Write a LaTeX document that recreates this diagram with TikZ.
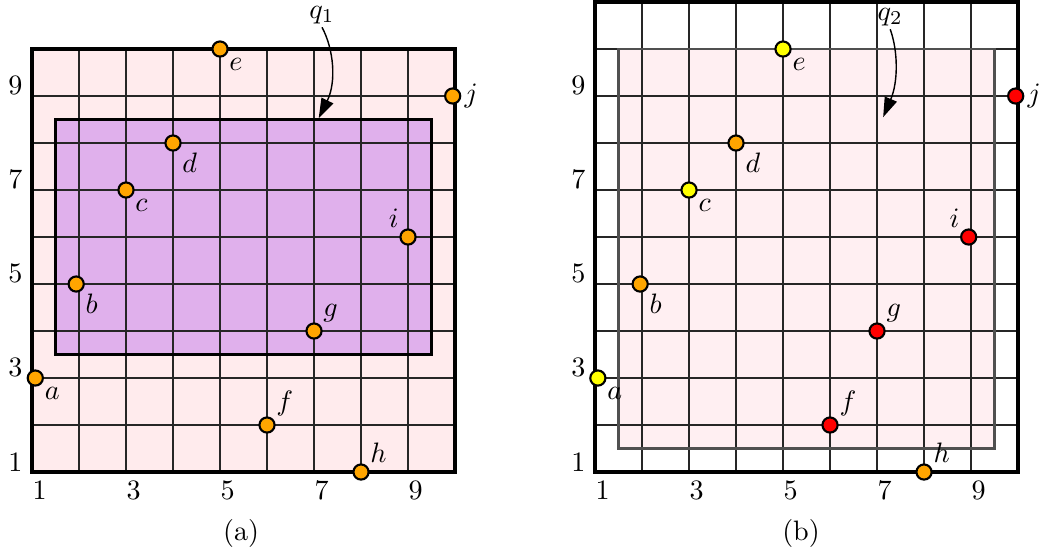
\documentclass[tikz,border=0pt]{standalone}
\usetikzlibrary{arrows.meta}
\definecolor{pinkA}{RGB}{255,235,237}
\definecolor{pinkB}{RGB}{255,239,242}
\definecolor{lilac}{RGB}{224,176,236}
\definecolor{dotorange}{RGB}{255,165,0}
\definecolor{dotyellow}{RGB}{255,255,0}
\definecolor{dotred}{RGB}{255,0,0}
\definecolor{rimgray}{RGB}{80,80,80}
\tikzset{
  gridline/.style={line width=0.45pt, black!85},
  outerframe/.style={line width=1.2pt, black},
  pt/.style={circle, draw=black, line width=0.75pt, minimum size=5.4pt, inner sep=0pt},
  po/.style={pt, fill=dotorange},
  py/.style={pt, fill=dotyellow},
  pr/.style={pt, fill=dotred},
  lb/.style={inner sep=1pt},
  ytick/.style={anchor=south east, inner sep=0pt, xshift=-3.2pt},
  xtick/.style={anchor=north west, inner sep=0pt, yshift=-2.85pt},
  qarrow/.style={line width=0.5pt, -{Triangle[length=7pt,width=4.6pt]}},
  qlabel/.style={inner sep=1pt}
}
\begin{document}
\begin{tikzpicture}[x=0.588cm, y=0.588cm]
\useasboundingbox (0,0) rectangle (22.170,11.830);

% ---------- left panel ----------
\begin{scope}[shift={(-0.319,0.787)}]
  \fill[pinkA] (1,1) rectangle (10,10);
  \fill[lilac] (1.5,3.5) rectangle (9.5,8.5);
  \foreach \k in {2,...,9} {
    \draw[gridline] (\k,1) -- (\k,10);
    \draw[gridline] (1,\k) -- (10,\k);
  }
  \draw[line width=1.1pt] (1.5,3.5) rectangle (9.5,8.5);
  \draw[outerframe] (1,1) rectangle (10,10);
  \foreach \v in {1,3,5,7,9} {
    \node[ytick] (ly\v) at (1,\v) {\v};
    \node[xtick] (lx\v) at (\v,1) {\v};
  }
  \node[po, label={[lb]-45:$a$}] (la) at (1.07,3) {};
  \node[po, label={[lb]-45:$b$}] (lbp) at (1.94,5) {};
  \node[po, label={[lb]-45:$c$}] (lc) at (3,7) {};
  \node[po, label={[lb]-45:$d$}] (ld) at (4,8) {};
  \node[po, label={[lb]-45:$e$}] (le) at (5,10) {};
  \node[po, label={[lb]45:$f$}] (lf) at (6,2) {};
  \node[po, label={[lb]45:$g$}] (lg) at (7,4) {};
  \node[po, label={[lb]45:$h$}] (lh) at (8,1) {};
  \node[po, label={[lb]135:$i$}] (li) at (9,6) {};
  \node[po, label={[lb]0:$j$}] (lj) at (9.95,9) {};
  \node[qlabel] (q1) at (7.17,10.72) {$q_1$};
  \coordinate (q1tip) at (7.1,8.53);
  \draw[qarrow] (q1.south) .. controls (7.42,10.0) and (7.48,9.3) .. (q1tip);
\end{scope}

% ---------- right panel ----------
\begin{scope}[shift={(11.66,0.787)}]
  \fill[pinkB] (1.5,1.5) rectangle (9.5,10);
  \foreach \k in {2,...,9} {
    \draw[gridline] (\k,1) -- (\k,11);
  }
  \foreach \k in {2,...,10} {
    \draw[gridline] (1,\k) -- (10,\k);
  }
  \draw[rimgray, line width=1.05pt] (1.5,1.5) rectangle (9.5,10);
  \draw[outerframe] (1,1) rectangle (10,11);
  \foreach \v in {1,3,5,7,9} {
    \node[ytick] (ry\v) at (1,\v) {\v};
    \node[xtick] (rx\v) at (\v,1) {\v};
  }
  \node[py, label={[lb]-45:$a$}] (ra) at (1.06,3) {};
  \node[po, label={[lb]-45:$b$}] (rb) at (1.96,5) {};
  \node[py, label={[lb]-45:$c$}] (rc) at (3,7) {};
  \node[po, label={[lb]-45:$d$}] (rd) at (4,8) {};
  \node[py, label={[lb]-45:$e$}] (re) at (5,10) {};
  \node[pr, label={[lb]45:$f$}] (rf) at (6,2) {};
  \node[pr, label={[lb]45:$g$}] (rg) at (7,4) {};
  \node[po, label={[lb]45:$h$}] (rh) at (8,1) {};
  \node[pr, label={[lb]135:$i$}] (ri) at (8.95,6) {};
  \node[pr, label={[lb]0:$j$}] (rj) at (9.95,9) {};
  \node[qlabel] (q2) at (7.28,10.68) {$q_2$};
  \coordinate (q2tip) at (7.13,8.55);
  \draw[qarrow] (q2.south) .. controls (7.45,9.95) and (7.45,9.3) .. (q2tip);
\end{scope}

\node (capa) at (5.128,0.489) {(a)};
\node (capb) at (17.043,0.489) {(b)};
\end{tikzpicture}
\end{document}
